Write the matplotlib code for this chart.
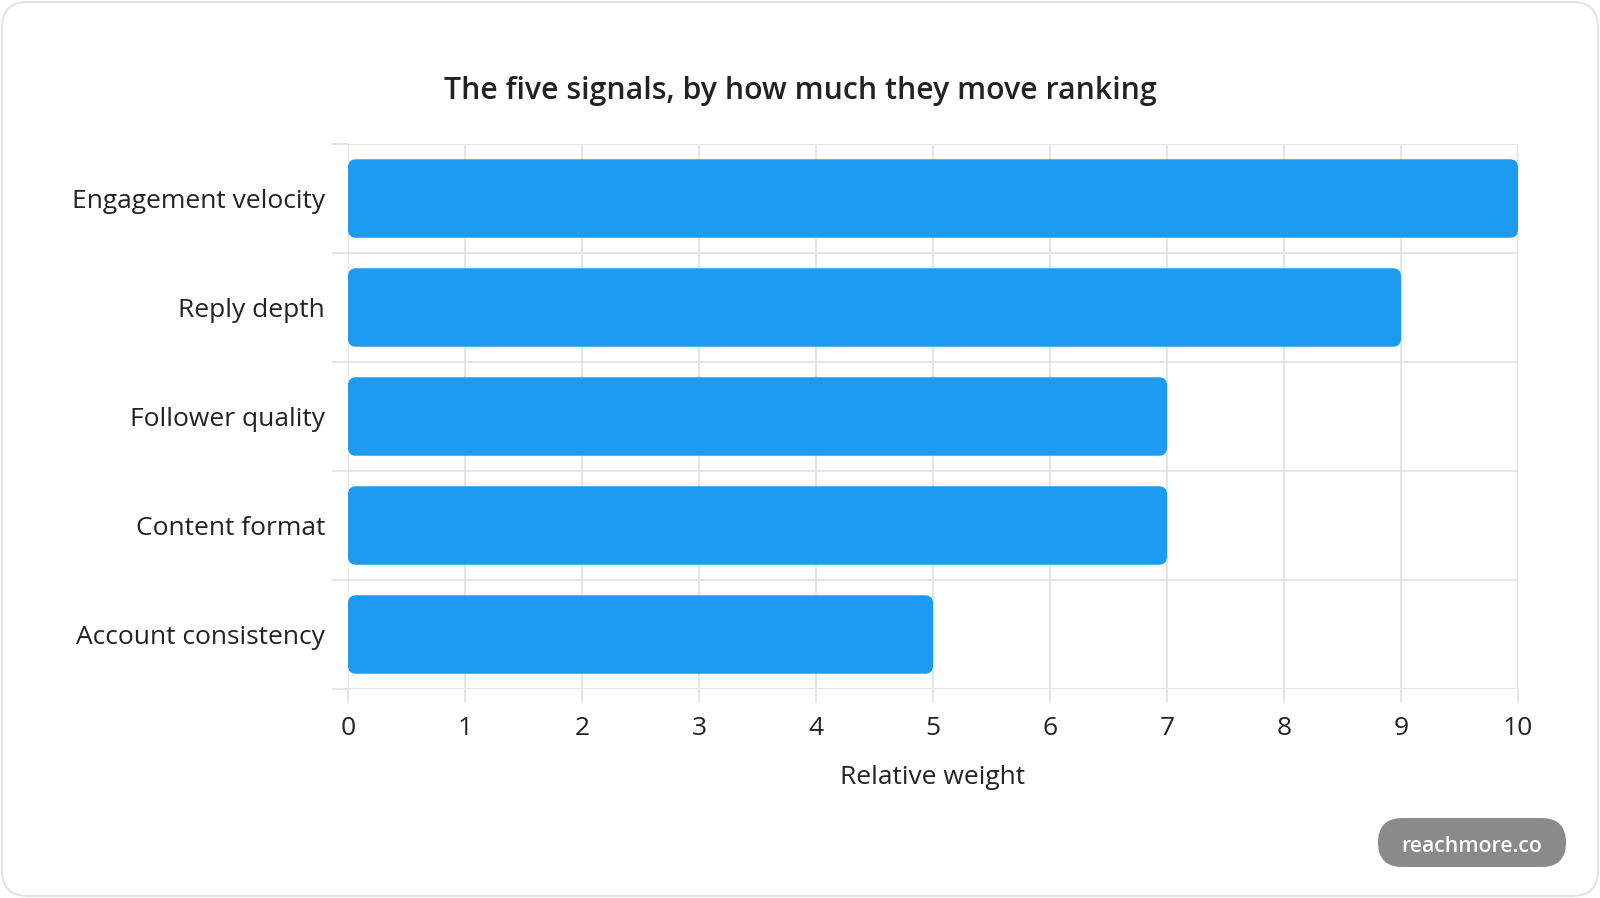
import numpy as np
import matplotlib
matplotlib.use("Agg")
from matplotlib import pyplot as plt
from matplotlib.patches import FancyBboxPatch

signals = ['Engagement velocity', 'Reply depth', 'Follower quality',
           'Content format', 'Account consistency']
weights = [10, 9, 7, 7, 5]
x_ticks = list(range(0, 11))

bar_color = '#1d9bf0'
grid_color = '#e3e3e3'
text_color = '#222222'

plt.rcParams['font.family'] = ['Open Sans', 'DejaVu Sans']

fig = plt.figure(figsize=(16, 8.98), dpi=100)
fig.patch.set_facecolor('white')

# card border
card = FancyBboxPatch((2 / 1600, 2 / 898), 1596 / 1600, 894 / 898,
                      boxstyle='round,pad=0,rounding_size=0.016',
                      mutation_aspect=1600 / 898,
                      transform=fig.transFigure, facecolor='white',
                      edgecolor='#e2e2e2', linewidth=1.5, zorder=-5)
fig.patches.append(card)

ax = fig.add_axes([348 / 1600, 1 - 689 / 898, 1170 / 1600, 545 / 898])
ax.set_facecolor('none')
ax.set_xlim(0, 10)
ax.set_ylim(len(signals) - 0.5, -0.5)

for s in ax.spines.values():
    s.set_visible(False)

# rounded bars
px_x = 10 / 1170
px_y = 5 / 545
radius = 8 * px_x
bar_h = 0.72
y_pos = np.arange(len(signals))
for y, w in zip(y_pos, weights):
    ax.add_patch(FancyBboxPatch((0, y - bar_h / 2), w, bar_h,
                                boxstyle='round,pad=0,rounding_size=%f' % radius,
                                mutation_aspect=px_y / px_x,
                                facecolor=bar_color, edgecolor='none', zorder=3))

ax.set_yticks(y_pos)
ax.set_yticklabels(signals, fontsize=19, color=text_color)
ax.set_yticks(np.arange(-0.5, len(signals)), minor=True)
ax.tick_params(axis='y', which='major', length=0, pad=16.5)
ax.tick_params(axis='y', which='minor', length=11.5, width=1.3, color=grid_color)

ax.set_xticks(x_ticks)
ax.set_xticklabels([str(t) for t in x_ticks], fontsize=19, color=text_color)
ax.tick_params(axis='x', length=10, width=1.3, color=grid_color, pad=9.5)

ax.grid(axis='x', which='major', color=grid_color, linewidth=1.3, zorder=0)
ax.grid(axis='y', which='minor', color=grid_color, linewidth=1.3, zorder=0)
ax.set_axisbelow(True)

ax.set_xlabel('Relative weight', fontsize=19, color=text_color, labelpad=17)

fig.text(0.5, 1 - 91 / 898, 'The five signals, by how much they move ranking',
         ha='center', va='center', fontsize=21.8, fontweight='semibold',
         color=text_color)

# badge
badge = FancyBboxPatch((1378 / 1600, 1 - 867 / 898), 188 / 1600, 49 / 898,
                       boxstyle='round,pad=0,rounding_size=%f' % (24.5 / 1600),
                       mutation_aspect=1600 / 898,
                       transform=fig.transFigure, facecolor='#8a8a8a',
                       edgecolor='none')
fig.patches.append(badge)
fig.text(1472 / 1600, 1 - 847 / 898, 'reachmore.co', ha='center', va='center',
         fontsize=15.3, fontweight='semibold', color='white')

fig.savefig('out.png', dpi=100, facecolor='white')
